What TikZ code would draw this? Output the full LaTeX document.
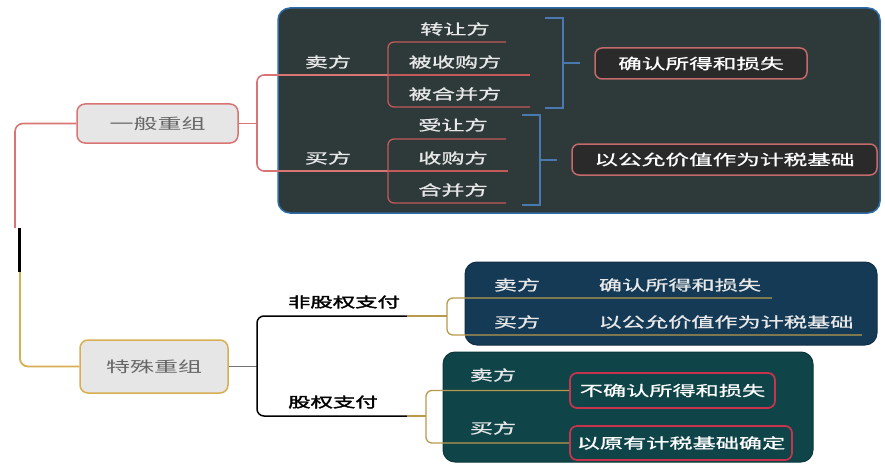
\documentclass[tikz,border=0pt]{standalone}
\usepackage{fontspec}
\newfontfamily\cjk[FakeStretch=1.6]{Noto Sans CJK SC}
\newfontfamily\cjkm[FakeStretch=1.62,FakeBold=1]{Noto Sans CJK SC}
\newfontfamily\cjkb[FakeStretch=1.6,FakeBold=2.5]{Noto Sans CJK SC}
\definecolor{topfill}{HTML}{2E393A}
\definecolor{topborder}{HTML}{2F6DA8}
\definecolor{navyfill}{HTML}{143A56}
\definecolor{tealfill}{HTML}{0F4448}
\definecolor{rootfill}{HTML}{E6E6E6}
\definecolor{redl}{HTML}{D97474}
\definecolor{childred}{HTML}{C25A5A}
\definecolor{bluel}{HTML}{4A78B0}
\definecolor{goldl}{HTML}{D8AE52}
\definecolor{goldline}{HTML}{B89A4E}
\definecolor{resfill}{HTML}{2A2A2A}
\definecolor{resred}{HTML}{C46A6A}
\definecolor{crimson}{HTML}{C8344E}
\definecolor{lighttext}{HTML}{E8E8E8}
\tikzset{
  rootnode/.style={draw, line width=1.5pt, fill=rootfill, rounded corners=8pt, text=black!60, font=\cjk\fontsize{15}{15}\selectfont, inner sep=0pt},
  lbl/.style={text=lighttext, font=\cjkm\fontsize{14.3}{14.3}\selectfont, inner sep=0pt},
  reslbl/.style={draw=resred, line width=1.5pt, fill=resfill, rounded corners=7pt, text=white, font=\cjkm\fontsize{14.6}{14.6}\selectfont, inner sep=0pt},
  eqres/.style={draw=crimson, line width=1.7pt, fill=tealfill, rounded corners=7pt, text=white, font=\cjkm\fontsize{14.3}{14.3}\selectfont, inner sep=0pt},
  boldlbl/.style={text=black, font=\cjkb\fontsize{14}{14}\selectfont, inner sep=0pt},
  redline/.style={draw=redl, line width=1.6pt},
  chline/.style={draw=childred, line width=1.3pt},
  blueline/.style={draw=bluel, line width=1.5pt},
  goldbr/.style={draw=goldline, line width=1.3pt},
}
\begin{document}
\begin{tikzpicture}[x=1pt,y=-1pt]
\useasboundingbox (0,0) rectangle (885,468);
% containers
\draw[fill=topfill, draw=topborder, line width=1.5pt, rounded corners=12pt] (278,8) rectangle (880,213);
\draw[fill=navyfill, draw=navyfill!80!black, line width=1pt, rounded corners=12pt] (465,262) rectangle (877,345);
\draw[fill=tealfill, draw=tealfill!80!black, line width=1pt, rounded corners=12pt] (443,352) rectangle (813,462);

% root nodes
\node[rootnode, draw=redl, minimum width=161pt, minimum height=39pt] (gen) at (157.5,123.5) {一般重组};
\node[rootnode, draw=goldl, minimum width=148pt, minimum height=53pt] (spe) at (154,366.5) {特殊重组};

% spine
\coordinate (spA) at (15,228);
\coordinate (spB) at (20,272);
\draw[redline, rounded corners=8pt] (gen.west) -| (spA);
\draw[black, line width=2.5pt] (19.5,228) -- (19.5,272);
\draw[draw=goldl, line width=1.8pt, rounded corners=8pt] (spB) |- (spe.west);

% general reorganisation tree
\coordinate (g1) at (257,123.5);
\coordinate (sJ) at (388,75);
\coordinate (bJ) at (388,171);
\draw[redline] (gen.east) -- (g1);
\draw[redline, rounded corners=7pt] (sJ) -| (g1) |- (bJ);
\node[lbl] (seller) at (328,62) {卖方};
\node[lbl] (buyer) at (328,158) {买方};

\node[lbl] (c1) at (455,29) {转让方};
\node[lbl] (c2) at (455,62) {被收购方};
\node[lbl] (c3) at (455,94) {被合并方};
\node[lbl] (c4) at (453,125) {受让方};
\node[lbl] (c5) at (453,158) {收购方};
\node[lbl] (c6) at (453,190) {合并方};

\coordinate (e1) at (506,42);
\coordinate (e2) at (530,75);
\coordinate (e3) at (530,107);
\coordinate (e4) at (506,139);
\coordinate (e5) at (508,171);
\coordinate (e6) at (506,203);
\draw[chline, rounded corners=6pt] (e1) -| (388,75) |- (e3);
\draw[chline] (sJ) -- (e2);
\draw[chline, rounded corners=6pt] (e4) -| (388,171) |- (e6);
\draw[chline] (bJ) -- (e5);

% blue brackets
\node[reslbl, minimum width=212pt, minimum height=31pt] (r1) at (701,63.5) {确认所得和损失};
\node[reslbl, minimum width=305pt, minimum height=31pt] (r2) at (724.5,159.5) {以公允价值作为计税基础};
\draw[blueline] (545,18) -- (563,18) -- (563,108) -- (545,108);
\draw[blueline] (563,63) -- (580,63);
\draw[blueline] (522,115) -- (540,115) -- (540,205) -- (522,205);
\draw[blueline] (540,160) -- (557,160);

% special reorganisation tree
\coordinate (s1) at (257,366.5);
\coordinate (nJ) at (407,316);
\coordinate (eJ) at (407,416);
\draw[draw=black!55, line width=1.3pt] (spe.east) -- (s1);
\draw[black, line width=1.5pt, rounded corners=7pt] (nJ) -| (s1) |- (eJ);
\node[boldlbl] (nonEq) at (344,302) {非股权支付};
\node[boldlbl] (eq) at (333,402) {股权支付};

% non-equity branch
\coordinate (nB) at (447,316);
\draw[goldbr] (nJ) -- (nB);
\coordinate (ne1) at (772,298);
\coordinate (ne2) at (862,335);
\draw[goldbr, rounded corners=6pt] (ne1) -| (nB) |- (ne2);
\node[lbl] (ns) at (517,285) {卖方};
\node[lbl] (nb) at (517,322) {买方};
\node[lbl] (nsr) at (680,285) {确认所得和损失};
\node[lbl] (nbr) at (726,322) {以公允价值作为计税基础};

% equity branch
\coordinate (qB) at (426,416);
\draw[goldbr] (eJ) -- (qB);
\node[eqres, minimum width=205pt, minimum height=35pt] (q1) at (672.5,390.5) {不确认所得和损失};
\node[eqres, minimum width=222pt, minimum height=34pt] (q2) at (681,443) {以原有计税基础确定};
\draw[goldbr, rounded corners=6pt] (q1.west) -| (qB) |- (q2.west);
\node[lbl] (qs) at (493,375) {卖方};
\node[lbl] (qb) at (493,428) {买方};
\end{tikzpicture}
\end{document}
